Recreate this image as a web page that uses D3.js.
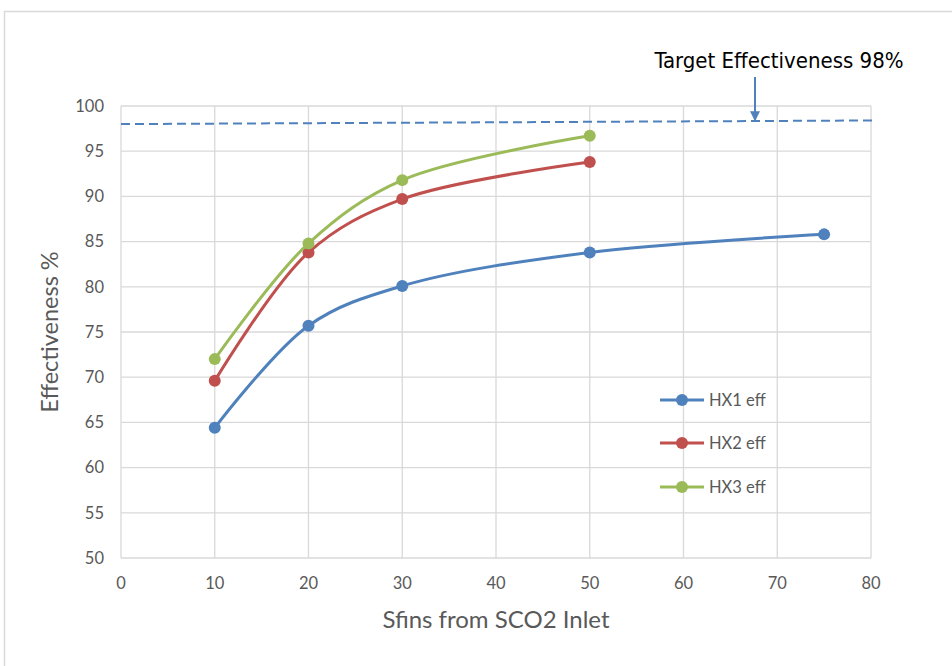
<!DOCTYPE html>
<html><head><meta charset="utf-8">
<script src="https://cdn.jsdelivr.net/npm/d3@7"></script>
<style>body{margin:0;background:#fff}</style>
</head><body>
<svg id="c" width="952" height="666"></svg>
<script>
const xVals = [10, 20, 30, 50, 75];
const hx1 = [64.4, 75.7, 80.1, 83.8, 85.8];
const hx2 = [69.6, 83.8, 89.7, 93.8];
const hx3 = [72.0, 84.8, 91.8, 96.7];
const seriesNames = ["HX1 eff", "HX2 eff", "HX3 eff"];
const colors = ["#4F81BD", "#C0504D", "#9BBB59"];
const xTicks = [0, 10, 20, 30, 40, 50, 60, 70, 80];
const yTicks = [50, 55, 60, 65, 70, 75, 80, 85, 90, 95, 100];
const targetX = [0, 80.5];
const targetY = [98, 98.4];
const targetLabel = "Target Effectiveness 98%";

const svg = d3.select("#c");
const font = "Lato, 'Open Sans', sans-serif";
// outer frame
svg.append("rect").attr("x", 4.5).attr("y", 11.5).attr("width", 960).attr("height", 700)
  .attr("fill", "none").attr("stroke", "#d9d9d9").attr("stroke-width", 1.5);

const x = d3.scaleLinear().domain([0, 80]).range([121, 871]);
const y = d3.scaleLinear().domain([50, 100]).range([558, 106]);

const g = svg.append("g");
// gridlines
g.selectAll(".hg").data(yTicks).join("line")
  .attr("x1", x(0)).attr("x2", x(80)).attr("y1", d => y(d)).attr("y2", d => y(d))
  .attr("stroke", "#d9d9d9").attr("stroke-width", 1.3);
g.selectAll(".vg").data(xTicks).join("line")
  .attr("y1", y(50)).attr("y2", y(100)).attr("x1", d => x(d)).attr("x2", d => x(d))
  .attr("stroke", "#d9d9d9").attr("stroke-width", 1.3);

// tick labels
g.selectAll(".yt").data(yTicks).join("text")
  .attr("x", 104).attr("y", d => y(d)).attr("dy", "0.35em").attr("text-anchor", "end")
  .attr("font-family", font).attr("font-size", 16.5).attr("fill", "#595959").text(d => d);
g.selectAll(".xt").data(xTicks).join("text")
  .attr("x", d => x(d)).attr("y", 589).attr("text-anchor", "middle")
  .attr("font-family", font).attr("font-size", 16.5).attr("fill", "#595959").text(d => d);

// axis titles
svg.append("text").attr("transform", "translate(58,332) rotate(-90)").attr("text-anchor", "middle")
  .attr("font-family", font).attr("font-size", 23.5).attr("fill", "#595959").text("Effectiveness %");
svg.append("text").attr("x", 496).attr("y", 628).attr("text-anchor", "middle")
  .attr("font-family", font).attr("font-size", 24).attr("fill", "#595959").text("Sfins from SCO2 Inlet");

// target dashed line
const tline = d3.line().x((d, i) => x(targetX[i])).y(d => y(d));
svg.append("path").attr("d", tline(targetY)).attr("fill", "none")
  .attr("stroke", "#4F81BD").attr("stroke-width", 2).attr("stroke-dasharray", "9,5");

// arrow
svg.append("defs").append("marker").attr("id", "ah").attr("viewBox", "0 0 10 10")
  .attr("refX", 10).attr("refY", 5).attr("markerWidth", 10).attr("markerHeight", 10)
  .attr("markerUnits", "userSpaceOnUse").attr("orient", "auto")
  .append("path").attr("d", "M0,0 L10,5 L0,10 z").attr("fill", "#4F81BD");
svg.append("line").attr("x1", 755).attr("y1", 77).attr("x2", 755).attr("y2", y(98.3))
  .attr("stroke", "#4F81BD").attr("stroke-width", 2).attr("marker-end", "url(#ah)");
svg.append("text").attr("x", 779).attr("y", 68).attr("text-anchor", "middle")
  .attr("font-family", "'Liberation Sans Narrow', 'DejaVu Sans Condensed', sans-serif")
  .attr("font-size", 22).attr("fill", "#000").text(targetLabel);

// series
const allSeries = [hx1, hx2, hx3];
const line = d3.line().x((d, i) => x(xVals[i])).y(d => y(d)).curve(d3.curveCatmullRom.alpha(0.5));
allSeries.forEach((s, k) => {
  svg.append("path").attr("d", line(s)).attr("fill", "none")
    .attr("stroke", colors[k]).attr("stroke-width", 3);
  svg.selectAll(null).data(s).join("circle")
    .attr("cx", (d, i) => x(xVals[i])).attr("cy", d => y(d)).attr("r", 6).attr("fill", colors[k]);
});

// legend
const legY = [400, 443, 487];
seriesNames.forEach((n, k) => {
  svg.append("line").attr("x1", 660).attr("x2", 704).attr("y1", legY[k]).attr("y2", legY[k])
    .attr("stroke", colors[k]).attr("stroke-width", 3);
  svg.append("circle").attr("cx", 682).attr("cy", legY[k]).attr("r", 6).attr("fill", colors[k]);
  svg.append("text").attr("x", 709).attr("y", legY[k]).attr("dy", "0.35em")
    .attr("font-family", font).attr("font-size", 16.5).attr("fill", "#595959").text(n);
});
</script>
</body></html>
